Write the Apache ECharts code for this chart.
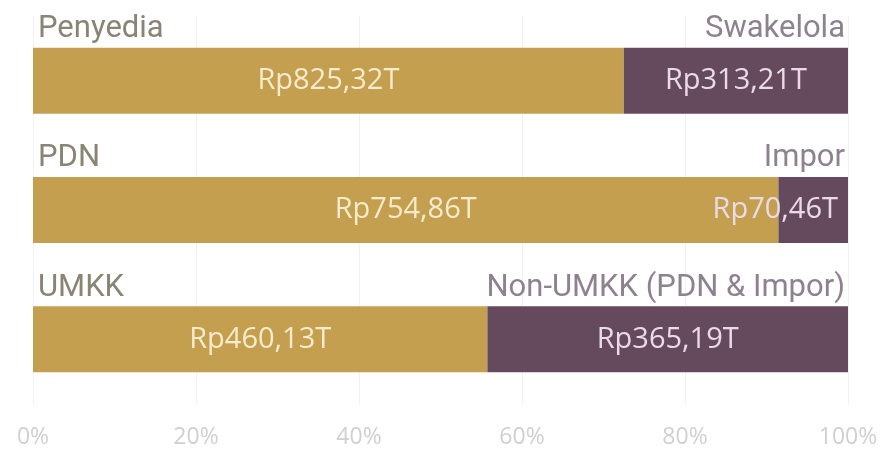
<!DOCTYPE html>
<html><head><meta charset="utf-8">
<script src="https://cdn.jsdelivr.net/npm/echarts@6/dist/echarts.min.js"></script>
<style>html,body{margin:0;padding:0;background:#fff}#c{width:885px;height:449px}</style>
</head><body><div id="c"></div>
<script>
const categories = ['Penyedia vs Swakelola', 'PDN vs Impor', 'UMKK vs Non-UMKK'];
const leftNames = ['Penyedia', 'PDN', 'UMKK'];
const rightNames = ['Swakelola', 'Impor', 'Non-UMKK (PDN & Impor)'];
const leftValues = [825.32, 754.86, 460.13];
const rightValues = [313.21, 70.46, 365.19];
const tickLabels = ['0%', '20%', '40%', '60%', '80%', '100%'];

const fmt = v => 'Rp' + v.toFixed(2).replace('.', ',') + 'T';
const totals = leftValues.map((v, i) => v + rightValues[i]);
const leftPct = leftValues.map((v, i) => v / totals[i] * 100);
const rightPct = rightValues.map((v, i) => v / totals[i] * 100);

const GOLD = '#C49F4F', PURPLE = '#654A5E';
const valFont = {fontFamily: 'Open Sans', fontSize: 29};
const nameFont = {fontFamily: 'Roboto', fontSize: 31};

const chart = echarts.init(document.getElementById('c'), null, {renderer: 'canvas'});
chart.setOption({
  animation: false,
  grid: {left: 33, right: 37, top: 16, bottom: 45},
  xAxis: {
    type: 'value', min: 0, max: 100, interval: 20,
    axisLine: {show: false}, axisTick: {show: false},
    splitLine: {lineStyle: {color: '#f1f1f1', width: 1}},
    axisLabel: {formatter: v => tickLabels[v / 20], color: '#d0d0d0', fontFamily: 'Open Sans', fontSize: 23, margin: 22}
  },
  yAxis: {
    type: 'category', data: categories, inverse: true,
    axisLine: {show: false}, axisTick: {show: false}, axisLabel: {show: false}
  },
  series: [
    {type: 'bar', stack: 'v', barWidth: 66, data: leftPct,
     itemStyle: {color: GOLD},
     label: {show: true, position: 'inside', color: '#F6EBCB', ...valFont,
       formatter: p => fmt(leftValues[p.dataIndex])}},
    {type: 'bar', stack: 'v', barWidth: 66, data: rightPct.map((v, i) => ({
        value: v,
        label: rightPct[i] < 15 ? {position: 'insideRight', distance: 10} : {}
      })),
     itemStyle: {color: PURPLE},
     label: {show: true, position: 'inside', color: '#EADCE6', ...valFont,
       formatter: p => fmt(rightValues[p.dataIndex])}},
    {type: 'bar', stack: 'n', barWidth: 66, barGap: '-100%', data: leftPct,
     itemStyle: {color: 'rgba(0,0,0,0)'}, silent: true,
     label: {show: true, position: [5, -3], align: 'left', verticalAlign: 'bottom', color: '#8A8474', ...nameFont,
       formatter: p => leftNames[p.dataIndex]}},
    {type: 'bar', stack: 'n', barWidth: 66, barGap: '-100%', data: rightPct,
     itemStyle: {color: 'rgba(0,0,0,0)'}, silent: true,
     label: {show: true, position: ['100%', -3], offset: [-3, 0], align: 'right', verticalAlign: 'bottom', color: '#8E8290', ...nameFont,
       formatter: p => rightNames[p.dataIndex]}}
  ]
});
</script></body></html>
